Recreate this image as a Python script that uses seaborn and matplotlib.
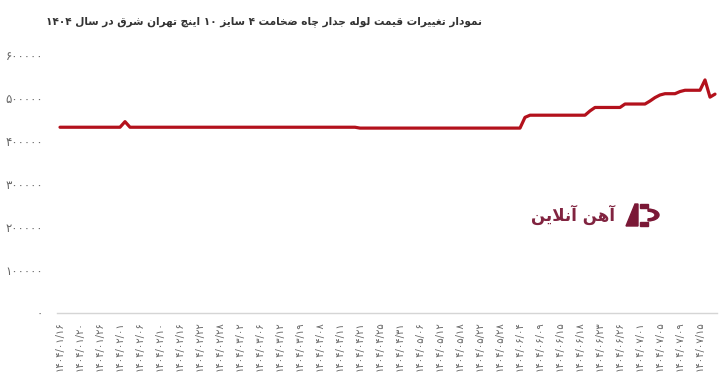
import re
import pandas as pd
import matplotlib
matplotlib.use("Agg")
import matplotlib.pyplot as plt
import seaborn as sns
from matplotlib.patches import Wedge, Rectangle, Polygon

# ---------------- data ----------------
title_text = "نمودار تغییرات قیمت لوله جدار چاه ضخامت ۴ سایز ۱۰ اینچ تهران شرق در سال ۱۴۰۴"
watermark_text = "آهن آنلاین"

date_labels = [
    "۱۴۰۴/۰۱/۱۶", "۱۴۰۴/۰۱/۲۰", "۱۴۰۴/۰۱/۲۶", "۱۴۰۴/۰۲/۰۱", "۱۴۰۴/۰۲/۰۶",
    "۱۴۰۴/۰۲/۱۰", "۱۴۰۴/۰۲/۱۶", "۱۴۰۴/۰۲/۲۲", "۱۴۰۴/۰۲/۲۸", "۱۴۰۴/۰۳/۰۲",
    "۱۴۰۴/۰۳/۰۶", "۱۴۰۴/۰۳/۱۲", "۱۴۰۴/۰۳/۱۹", "۱۴۰۴/۰۴/۰۸", "۱۴۰۴/۰۴/۱۱",
    "۱۴۰۴/۰۴/۲۱", "۱۴۰۴/۰۴/۲۵", "۱۴۰۴/۰۴/۳۱", "۱۴۰۴/۰۵/۰۶", "۱۴۰۴/۰۵/۱۲",
    "۱۴۰۴/۰۵/۱۸", "۱۴۰۴/۰۵/۲۲", "۱۴۰۴/۰۵/۲۸", "۱۴۰۴/۰۶/۰۴", "۱۴۰۴/۰۶/۰۹",
    "۱۴۰۴/۰۶/۱۵", "۱۴۰۴/۰۶/۱۸", "۱۴۰۴/۰۶/۲۳", "۱۴۰۴/۰۶/۲۶", "۱۴۰۴/۰۷/۰۱",
    "۱۴۰۴/۰۷/۰۵", "۱۴۰۴/۰۷/۰۹", "۱۴۰۴/۰۷/۱۵",
]
label_step = 4  # one date label every 4 trading days

prices = [
    432000, 432000, 432000, 432000, 432000, 432000, 432000, 432000, 432000, 432000, 432000, 432000,
    432000, 445000, 432000, 432000, 432000, 432000, 432000, 432000, 432000, 432000, 432000, 432000,
    432000, 432000, 432000, 432000, 432000, 432000, 432000, 432000, 432000, 432000, 432000, 432000,
    432000, 432000, 432000, 432000, 432000, 432000, 432000, 432000, 432000, 432000, 432000, 432000,
    432000, 432000, 432000, 432000, 432000, 432000, 432000, 432000, 432000, 432000, 432000, 432000,
    430000, 430000, 430000, 430000, 430000, 430000, 430000, 430000, 430000, 430000, 430000, 430000,
    430000, 430000, 430000, 430000, 430000, 430000, 430000, 430000, 430000, 430000, 430000, 430000,
    430000, 430000, 430000, 430000, 430000, 430000, 430000, 430000, 430000, 455000, 460000, 460000,
    460000, 460000, 460000, 460000, 460000, 460000, 460000, 460000, 460000, 460000, 470000, 478000,
    478000, 478000, 478000, 478000, 478000, 486000, 486000, 486000, 486000, 486000, 493000, 501000,
    507000, 510000, 510000, 510000, 515000, 518000, 518000, 518000, 518000, 542000, 502000, 509000,
]

y_ticks = [0, 100000, 200000, 300000, 400000, 500000, 600000]
y_tick_labels = ["۰", "۱۰۰۰۰۰", "۲۰۰۰۰۰", "۳۰۰۰۰۰", "۴۰۰۰۰۰", "۵۰۰۰۰۰", "۶۰۰۰۰۰"]

# ------------- minimal Persian shaping (matplotlib has no RTL shaping) -------------
FORMS = {
    "ا": ("\uFE8D", "\uFE8E"), "آ": ("\uFE81", "\uFE82"),
    "د": ("\uFEA9", "\uFEAA"), "ذ": ("\uFEAB", "\uFEAC"),
    "ر": ("\uFEAD", "\uFEAE"), "ز": ("\uFEAF", "\uFEB0"),
    "ژ": ("\uFB8A", "\uFB8B"), "و": ("\uFEED", "\uFEEE"),
    "ب": ("\uFE8F", "\uFE90", "\uFE91", "\uFE92"),
    "پ": ("\uFB56", "\uFB57", "\uFB58", "\uFB59"),
    "ت": ("\uFE95", "\uFE96", "\uFE97", "\uFE98"),
    "ث": ("\uFE99", "\uFE9A", "\uFE9B", "\uFE9C"),
    "ج": ("\uFE9D", "\uFE9E", "\uFE9F", "\uFEA0"),
    "چ": ("\uFB7A", "\uFB7B", "\uFB7C", "\uFB7D"),
    "ح": ("\uFEA1", "\uFEA2", "\uFEA3", "\uFEA4"),
    "خ": ("\uFEA5", "\uFEA6", "\uFEA7", "\uFEA8"),
    "س": ("\uFEB1", "\uFEB2", "\uFEB3", "\uFEB4"),
    "ش": ("\uFEB5", "\uFEB6", "\uFEB7", "\uFEB8"),
    "ص": ("\uFEB9", "\uFEBA", "\uFEBB", "\uFEBC"),
    "ض": ("\uFEBD", "\uFEBE", "\uFEBF", "\uFEC0"),
    "ط": ("\uFEC1", "\uFEC2", "\uFEC3", "\uFEC4"),
    "ظ": ("\uFEC5", "\uFEC6", "\uFEC7", "\uFEC8"),
    "ع": ("\uFEC9", "\uFECA", "\uFECB", "\uFECC"),
    "غ": ("\uFECD", "\uFECE", "\uFECF", "\uFED0"),
    "ف": ("\uFED1", "\uFED2", "\uFED3", "\uFED4"),
    "ق": ("\uFED5", "\uFED6", "\uFED7", "\uFED8"),
    "ک": ("\uFB8E", "\uFB8F", "\uFB90", "\uFB91"),
    "گ": ("\uFB92", "\uFB93", "\uFB94", "\uFB95"),
    "ل": ("\uFEDD", "\uFEDE", "\uFEDF", "\uFEE0"),
    "م": ("\uFEE1", "\uFEE2", "\uFEE3", "\uFEE4"),
    "ن": ("\uFEE5", "\uFEE6", "\uFEE7", "\uFEE8"),
    "ه": ("\uFEE9", "\uFEEA", "\uFEEB", "\uFEEC"),
    "ی": ("\uFBFC", "\uFBFD", "\uFBFE", "\uFBFF"),
}
LAM_ALEF = {"ا": ("\uFEFB", "\uFEFC"), "آ": ("\uFEF5", "\uFEF6")}


def joins_forward(c):
    return c in FORMS and len(FORMS[c]) == 4


def shape(text):
    ch = list(text)
    n = len(ch)
    res = []
    i = 0
    while i < n:
        c = ch[i]
        if c not in FORMS:
            res.append(c)
            i += 1
            continue
        jp = i > 0 and joins_forward(ch[i - 1])
        if c == "ل" and i + 1 < n and ch[i + 1] in LAM_ALEF:
            lig = LAM_ALEF[ch[i + 1]]
            res.append(lig[1] if jp else lig[0])
            i += 2
            continue
        jn = joins_forward(c) and i + 1 < n and ch[i + 1] in FORMS
        f = FORMS[c]
        if jp and jn:
            g = f[3]
        elif jp:
            g = f[1]
        elif jn:
            g = f[2]
        else:
            g = f[0]
        res.append(g)
        i += 1
    s = "".join(res)[::-1]
    return re.sub(r"[0-9\u06F0-\u06F9]+", lambda m: m.group(0)[::-1], s)


# ---------------- plot ----------------
sns.set_theme(style="white")
plt.rcParams["font.family"] = ["DejaVu Sans"]

W, H = 722, 390
fig = plt.figure(figsize=(W / 100, H / 100), dpi=100)
ax = fig.add_axes([57 / W, 77 / H, 660 / W, 258 / H])

df = pd.DataFrame({"idx": list(range(len(prices))), "price": prices})
sns.lineplot(data=df, x="idx", y="price", color="#b3111c", linewidth=2.3, ax=ax)

ax.set_xlim(-0.6, len(prices) - 0.6)
ax.set_ylim(y_ticks[0], y_ticks[-1])
ax.set_xticks(list(range(0, len(date_labels) * label_step, label_step)))
ax.set_xticklabels(date_labels, rotation=90, fontsize=7.2, color="#666666")
ax.set_yticks(y_ticks)
ax.set_yticklabels(y_tick_labels, fontsize=8.5, color="#666666")
ax.tick_params(axis="x", length=0, pad=6)
ax.tick_params(axis="y", length=0, pad=10)
for lab in ax.get_xticklabels():
    lab.set_verticalalignment("top")
ax.set_xlabel("")
ax.set_ylabel("")
for s in ["top", "right", "left"]:
    ax.spines[s].set_visible(False)
ax.spines["bottom"].set_color("#d5d5d5")
ax.spines["bottom"].set_linewidth(1.0)
ax.grid(False)

fig.text(264 / W, 1 - 22 / H, shape(title_text), ha="center", va="center",
         fontsize=7.6, fontweight="bold", color="#333333")

# watermark
wm_color = "#7a1836"
fig.text(615 / W, 1 - 215 / H, shape(watermark_text), ha="right", va="center",
         fontsize=12, fontweight="bold", color=wm_color, alpha=0.95)
# simple logo mark
cx, cy = 648, 215
fig.patches.append(Wedge((cx / W, 1 - cy / H), 11 / W, -90, 90, width=4 / W,
                         transform=fig.transFigure, color=wm_color))
fig.patches.append(Rectangle(((cx - 8) / W, 1 - (cy + 11) / H), 8 / W, 4 / H,
                             transform=fig.transFigure, color=wm_color))
fig.patches.append(Rectangle(((cx - 8) / W, 1 - (cy - 7) / H), 8 / W, 4 / H,
                             transform=fig.transFigure, color=wm_color))
fig.patches.append(Polygon([((cx - 22) / W, 1 - (cy + 11) / H), ((cx - 13) / W, 1 - (cy - 11) / H),
                            ((cx - 10) / W, 1 - (cy - 11) / H), ((cx - 10) / W, 1 - (cy + 11) / H)],
                           closed=True, transform=fig.transFigure, color=wm_color))

fig.savefig("out.png", dpi=100, facecolor="white")
